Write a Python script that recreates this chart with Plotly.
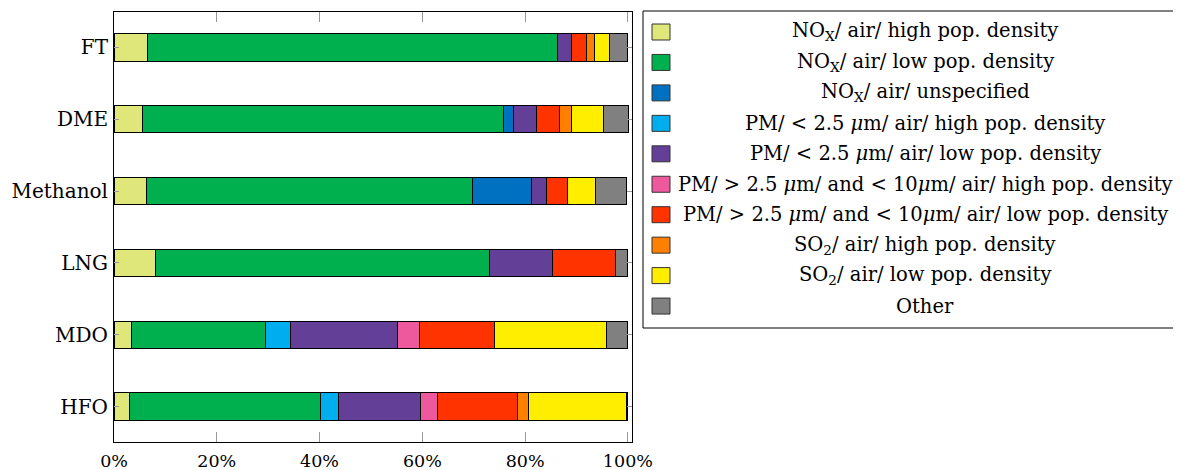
import plotly.graph_objects as go

categories = ["FT", "DME", "Methanol", "LNG", "MDO", "HFO"]

nox_high = [6.6, 5.6, 6.4, 8.1, 3.5, 3.1]
nox_low = [79.7, 70.2, 63.3, 64.9, 26.0, 37.0]
nox_unspec = [0, 1.9, 11.5, 0, 0, 0]
pm25_high = [0, 0, 0, 0, 4.9, 3.5]
pm25_low = [2.8, 4.6, 3.0, 12.3, 20.7, 16.0]
pm10_high = [0, 0, 0, 0, 4.3, 3.3]
pm10_low = [2.8, 4.4, 4.1, 12.3, 14.7, 15.7]
so2_high = [1.6, 2.3, 0, 0, 0, 2.1]
so2_low = [2.9, 6.2, 5.3, 0, 21.7, 19.0]
other = [3.6, 4.9, 6.1, 2.3, 4.2, 0.3]

series_names = [
    "NO<sub>X</sub>/ air/ high pop. density",
    "NO<sub>X</sub>/ air/ low pop. density",
    "NO<sub>X</sub>/ air/ unspecified",
    "PM/ < 2.5 <i>μ</i>m/ air/ high pop. density",
    "PM/ < 2.5 <i>μ</i>m/ air/ low pop. density",
    "PM/ > 2.5 <i>μ</i>m/ and < 10<i>μ</i>m/ air/ high pop. density",
    "PM/ > 2.5 <i>μ</i>m/ and < 10<i>μ</i>m/ air/ low pop. density",
    "SO<sub>2</sub>/ air/ high pop. density",
    "SO<sub>2</sub>/ air/ low pop. density",
    "Other",
]
series_values = [nox_high, nox_low, nox_unspec, pm25_high, pm25_low,
                 pm10_high, pm10_low, so2_high, so2_low, other]
colors = ["#DFE67A", "#00B04F", "#0070C0", "#00AEEF", "#633F98",
          "#EE599E", "#FF3300", "#FF8000", "#FFEE00", "#808080"]

x_ticks = [0, 20, 40, 60, 80, 100]
x_ticktext = ["0%", "20%", "40%", "60%", "80%", "100%"]

FONT = "DejaVu Serif"

fig = go.Figure()
for name, vals, col in zip(series_names, series_values, colors):
    fig.add_trace(go.Bar(
        y=categories,
        x=[v if v > 0 else None for v in vals],
        name=name,
        orientation="h",
        marker=dict(color=col, line=dict(color="black", width=1)),
        width=0.38,
        showlegend=False,
    ))

# page offset of the plotly div (body margin)
OFF = 8
FW, FH = 1181, 470
# plot area in page pixels
L, R, T, B = 114, 632, 12, 442
W, H = R - L, B - T


def px(x):
    return (x - L) / W


def py(y):
    return (B - y) / H


shapes = []
annotations = []
# legend box
shapes.append(dict(type="rect", xref="paper", yref="paper",
                   x0=px(643), x1=px(1180), y0=py(328), y1=py(11),
                   line=dict(color="black", width=1), fillcolor="white", layer="below"))
row0, dy = 32, 30.45
for i, (name, col) in enumerate(zip(series_names, colors)):
    yc = row0 + i * dy
    shapes.append(dict(type="rect", xref="paper", yref="paper",
                       x0=px(652), x1=px(670), y0=py(yc + 8), y1=py(yc - 8),
                       line=dict(color="#333333", width=1), fillcolor=col))
    annotations.append(dict(xref="paper", yref="paper", x=px(925), y=py(yc),
                            text=name, showarrow=False, xanchor="center", yanchor="middle",
                            font=dict(family=FONT, size=19.5, color="black")))

fig.update_layout(
    barmode="stack",
    width=FW, height=FH,
    margin=dict(l=L - OFF, r=FW - (R - OFF), t=T - OFF, b=FH - (B - OFF), autoexpand=False),
    plot_bgcolor="white", paper_bgcolor="white",
    font=dict(family=FONT, size=17.5, color="black"),
    shapes=shapes,
    annotations=annotations,
    xaxis=dict(range=[0, 100.8], tickvals=x_ticks, ticktext=x_ticktext,
               showgrid=False, zeroline=False, showline=True, linecolor="black",
               linewidth=1, mirror="allticks", ticks="inside", ticklen=10,
               tickcolor="#999999", tickwidth=1, ticklabelstandoff=3,
               tickfont=dict(size=17.5), automargin=False),
    yaxis=dict(categoryorder="array", categoryarray=categories[::-1],
               range=[-0.494, 5.494], showgrid=False, zeroline=False,
               showline=True, linecolor="black", linewidth=1, mirror="allticks",
               ticks="inside", ticklen=5, tickcolor="#999999", tickwidth=1,
               ticklabelstandoff=1, tickfont=dict(size=20), automargin=False),
)

fig.write_html("out.html")
